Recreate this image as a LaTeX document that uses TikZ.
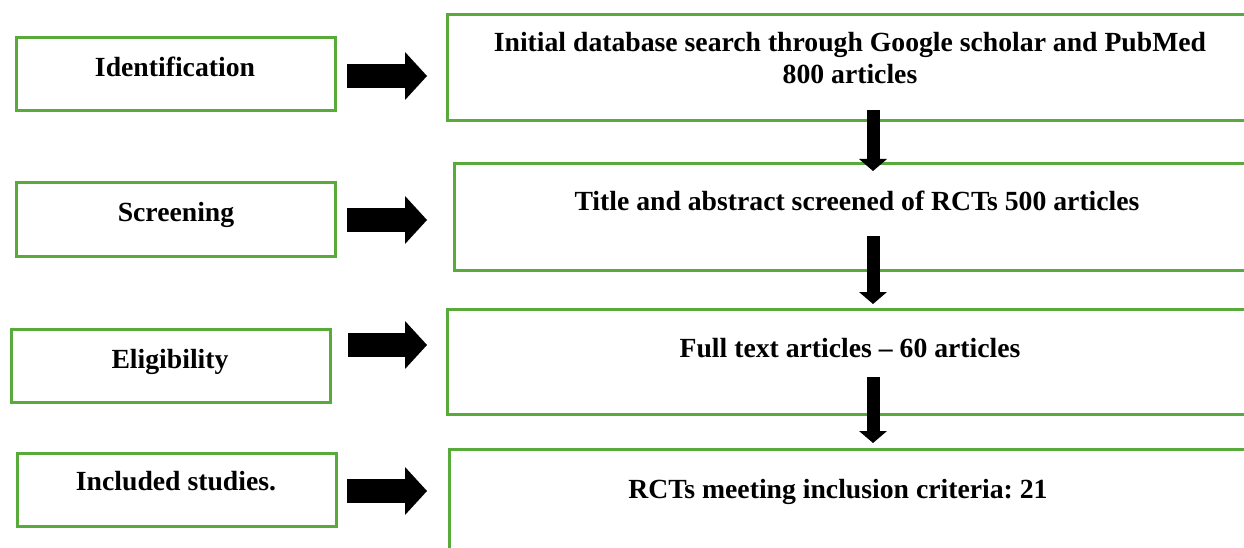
\documentclass[tikz,border=0pt]{standalone}
\usepackage{fontspec}
\setmainfont{Liberation Serif}
\usetikzlibrary{arrows.meta}
\definecolor{boxgreen}{RGB}{88,170,58}
\frenchspacing
\tikzset{
  stagebox/.style={draw=boxgreen, line width=3pt, fill=white, inner sep=0pt},
  boxtext/.style={font=\fontsize{27.7}{32}\selectfont\bfseries, align=center, anchor=base, inner sep=0pt},
  sidearrow/.style={line width=24pt, -{Triangle[width=48pt,length=22pt,line width=0pt]}},
  downarrow/.style={line width=13pt, -{Triangle[width=28pt,length=12pt,line width=0pt]}},
}
\begin{document}
\begin{tikzpicture}[x=1pt,y=-1pt]
\useasboundingbox (0,0) rectangle (1244,548);
\clip (0,0) rectangle (1244,548);

% stage labels on the left
\node[stagebox, minimum width=319pt, minimum height=73pt] (stage1) at (175.5,74.5) {};
\node[stagebox, minimum width=319pt, minimum height=73pt] (stage2) at (175.5,219.5) {};
\node[stagebox, minimum width=319pt, minimum height=73pt] (stage3) at (170.5,365.5) {};
\node[stagebox, minimum width=319pt, minimum height=73pt] (stage4) at (176.5,489.5) {};
\node[boxtext] (stage1txt) at (175,77) {Identification};
\node[boxtext] (stage2txt) at (176,221) {Screening};
\node[boxtext] (stage3txt) at (170,368) {Eligibility};
\node[boxtext] (stage4txt) at (176,490) {Included studies.};

% result boxes on the right, running off the page edge
\node[stagebox, minimum width=823pt, minimum height=106pt] (res1) at (858.5,68) {};
\node[stagebox, minimum width=816pt, minimum height=106pt] (res2) at (862,217) {};
\node[stagebox, minimum width=823pt, minimum height=105pt] (res3) at (858.5,361.5) {};
\node[stagebox, minimum width=821pt, minimum height=111pt] (res4) at (859.5,504.5) {};
\node[boxtext] (res1txt) at (850,84) {Initial database search through Google scholar and PubMed\\800 articles};
\node[boxtext] (res2txt) at (857,211) {Title and abstract screened of RCTs 500 articles};
\node[boxtext] (res3txt) at (850,357) {Full text articles -- 60 articles};
\node[boxtext] (res4txt) at (838,498) {RCTs meeting inclusion criteria: 21};

% block arrows from each stage to its result
\coordinate (a1s) at (347,76);  \coordinate (a1e) at (427,76);
\coordinate (a2s) at (347,220); \coordinate (a2e) at (427,220);
\coordinate (a3s) at (348,345); \coordinate (a3e) at (427,345);
\coordinate (a4s) at (347,491); \coordinate (a4e) at (427,491);
\draw[sidearrow] (a1s) -- (a1e);
\draw[sidearrow] (a2s) -- (a2e);
\draw[sidearrow] (a3s) -- (a3e);
\draw[sidearrow] (a4s) -- (a4e);

% flow arrows between results
\coordinate (d1s) at (873,110); \coordinate (d1e) at (873,171);
\coordinate (d2s) at (873,236); \coordinate (d2e) at (873,304);
\coordinate (d3s) at (873,377); \coordinate (d3e) at (873,443);
\draw[downarrow] (d1s) -- (d1e);
\draw[downarrow] (d2s) -- (d2e);
\draw[downarrow] (d3s) -- (d3e);
\end{tikzpicture}
\end{document}
